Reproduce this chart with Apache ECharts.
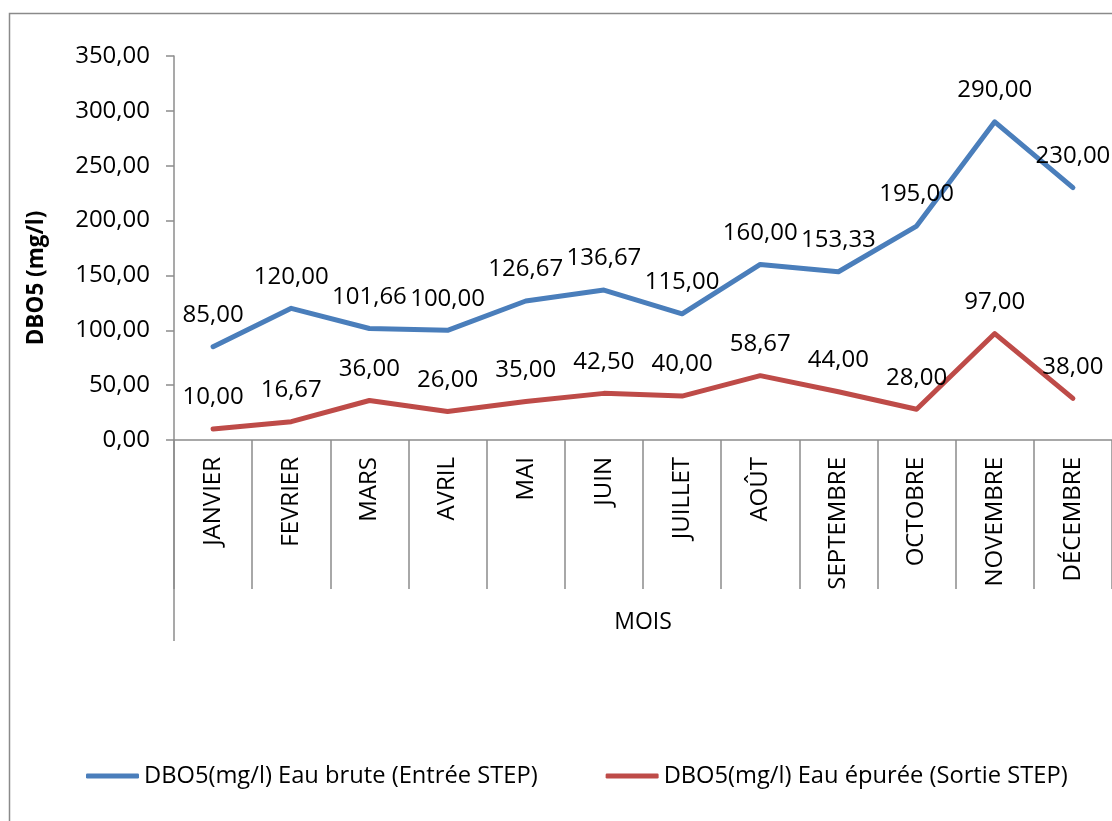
<!DOCTYPE html>
<html>
<head>
<meta charset="utf-8">
<script src="https://cdn.jsdelivr.net/npm/echarts@6/dist/echarts.min.js"></script>
<style>
  html, body { margin: 0; padding: 0; background: #fff; }
  #chart { width: 1112px; height: 821px; }
</style>
</head>
<body>
<div id="chart"></div>
<script>
// mois (axe des catégories)
const mois = ['JANVIER', 'FEVRIER', 'MARS', 'AVRIL', 'MAI', 'JUIN', 'JUILLET', 'AOÛT', 'SEPTEMBRE', 'OCTOBRE', 'NOVEMBRE', 'DÉCEMBRE']
// DBO5 entrée / sortie STEP
const eauBrute = [85, 120, 101.66, 100, 126.67, 136.67, 115, 160, 153.33, 195, 290, 230]
const eauEpuree = [10, 16.67, 36, 26, 35, 42.5, 40, 58.67, 44, 28, 97, 38]
const serieNames = ['DBO5(mg/l) Eau brute (Entrée STEP)', 'DBO5(mg/l) Eau épurée (Sortie STEP)']

const FONT = '"Open Sans", sans-serif'
const fmt = v => v.toFixed(2).replace('.', ',')

const chart = echarts.init(document.getElementById('chart'))

const lineSerie = (name, data, color) => ({
    name: name,
    type: 'line',
    data: data,
    symbol: 'circle',
    symbolSize: 1,
    itemStyle: { color: color },
    lineStyle: { color: color, width: 5, cap: 'round', join: 'round' },
    label: {
        show: true,
        position: 'top',
        distance: 19,
        color: '#000',
        fontFamily: FONT,
        fontSize: 24,
        formatter: p => fmt(p.value)
    },
    emphasis: { disabled: true },
    animation: false
})

chart.setOption({
    animation: false,
    textStyle: { fontFamily: FONT },
    grid: {
        left: 174,
        right: -6,
        top: 56,
        bottom: 381
    },
    legend: {
        left: 81,
        top: 759,
        icon: 'roundRect',
        itemWidth: 53,
        itemHeight: 5,
        itemGap: 68,
        textStyle: { fontFamily: FONT, fontSize: 23.7, color: '#000' },
        data: serieNames
    },
    xAxis: {
        type: 'category',
        data: mois,
        boundaryGap: true,
        name: 'MOIS',
        nameLocation: 'middle',
        nameGap: 171,
        nameTextStyle: { fontFamily: FONT, fontSize: 23, color: '#000' },
        axisLine: { lineStyle: { color: '#8c8c8c', width: 1.5 } },
        axisTick: { show: true, length: 149, interval: 0, lineStyle: { color: '#8c8c8c', width: 1.5 } },
        axisLabel: {
            interval: 0,
            rotate: 90,
            margin: 17,
            fontFamily: FONT,
            fontSize: 24,
            color: '#000'
        },
        splitLine: { show: false }
    },
    yAxis: {
        type: 'value',
        min: 0,
        max: 350,
        interval: 50,
        name: 'DBO5 (mg/l)',
        nameLocation: 'middle',
        nameGap: 126,
        nameTextStyle: { fontFamily: FONT, fontSize: 22.5, fontWeight: 'bold', color: '#000', padding: [0, 60, 0, 0] },
        axisLine: { show: true, lineStyle: { color: '#8c8c8c', width: 1.5 } },
        axisTick: { show: true, length: 8, lineStyle: { color: '#8c8c8c', width: 1.5 } },
        axisLabel: {
            margin: 24,
            fontFamily: FONT,
            fontSize: 24,
            color: '#000',
            formatter: v => fmt(v)
        },
        splitLine: { show: false }
    },
    graphic: [
        {
            type: 'rect',
            shape: { x: 9.5, y: 13.5, width: 1300, height: 1000 },
            style: { fill: 'none', stroke: '#8a8a8a', lineWidth: 1.5 },
            silent: true
        },
        {
            type: 'line',
            shape: { x1: 174, y1: 440, x2: 174, y2: 641 },
            style: { stroke: '#8c8c8c', lineWidth: 1.5 },
            silent: true
        }
    ],
    series: [
        lineSerie(serieNames[0], eauBrute, '#4A7EBB'),
        lineSerie(serieNames[1], eauEpuree, '#BE4B48')
    ]
})
</script>
</body>
</html>
